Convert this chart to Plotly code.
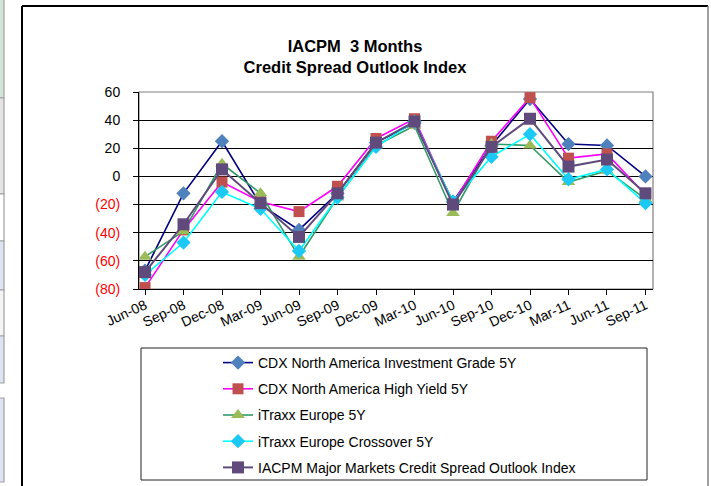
import plotly.graph_objects as go

categories = ["Jun-08", "Sep-08", "Dec-08", "Mar-09", "Jun-09", "Sep-09", "Dec-09",
              "Mar-10", "Jun-10", "Sep-10", "Dec-10", "Mar-11", "Jun-11", "Sep-11"]

cdx_ig = [-67, -12, 25, -20, -38, -12, 24, 38, -18, 22, 55, 23, 22, 0]
cdx_hy = [-79, -38, -4, -18, -25, -7, 27, 41, -19, 25, 56, 13, 16, -13]
itraxx_eu = [-57, -39, 9, -12, -57, -15, 22, 36, -26, 23, 22, -4, 4, -16]
itraxx_xo = [-70, -47, -11, -23, -53, -15, 21, 39, -18, 14, 30, -2, 5, -19]
iacpm_idx = [-68, -34, 5, -19, -43, -12, 24, 39, -20, 21, 41, 7, 12, -12]

series_names = ["CDX North America Investment Grade 5Y",
                "CDX North America High Yield 5Y",
                "iTraxx Europe 5Y",
                "iTraxx Europe Crossover 5Y",
                "IACPM Major Markets Credit Spread Outlook Index"]

y_tick_vals = [60, 40, 20, 0, -20, -40, -60, -80]
y_tick_text = ["60", "40", "20", "0", "(20)", "(40)", "(60)", "(80)"]

W, H = 711, 486
ML, MR, MT, MB = 139, 58, 92, 197
PW, PH = W - ML - MR, H - MT - MB


def px(x):
    return (x - ML) / PW


def py(y):
    return (H - MB - y) / PH


styles = [
    dict(line=dict(color="#000080", width=1.6), marker=dict(symbol="diamond", size=11, color="#4F81BD")),
    dict(line=dict(color="#FF00FF", width=1.6), marker=dict(symbol="square", size=11, color="#C0504D")),
    dict(line=dict(color="#339966", width=1.6), marker=dict(symbol="triangle-up", size=12, color="#9BBB59")),
    dict(line=dict(color="#00FFFF", width=1.6), marker=dict(symbol="diamond", size=11, color="#1CC8F4")),
    dict(line=dict(color="#604A7B", width=2), marker=dict(symbol="square", size=12, color="#604A7B")),
]

fig = go.Figure()
for name, vals, st, g in zip(series_names, [cdx_ig, cdx_hy, itraxx_eu, itraxx_xo, iacpm_idx],
                            styles, range(5)):
    fig.add_trace(go.Scatter(x=categories, y=vals, name=name, mode="lines+markers",
                             legendgroup=str(g), **st))

ticktext_colored = [t if not t.startswith("(") else f'<span style="color:#FF0000">{t}</span>'
                    for t in y_tick_text]

shapes = []
# plot area gray border
shapes.append(dict(type="rect", xref="paper", yref="paper", x0=0, x1=1, y0=0, y1=1,
                   line=dict(color="#808080", width=1.2), layer="between"))
# chart frame
shapes.append(dict(type="line", xref="paper", yref="paper", x0=px(22), x1=px(708), y0=py(6), y1=py(6),
                   line=dict(color="#000000", width=2)))
shapes.append(dict(type="line", xref="paper", yref="paper", x0=px(22), x1=px(22), y0=py(6), y1=py(492),
                   line=dict(color="#000000", width=2)))
shapes.append(dict(type="line", xref="paper", yref="paper", x0=px(708), x1=px(708), y0=py(6), y1=py(492),
                   line=dict(color="#808080", width=1.5)))
# legend box
shapes.append(dict(type="rect", xref="paper", yref="paper", x0=px(141), x1=px(647), y0=py(348), y1=py(480),
                   line=dict(color="#222222", width=1)))
# spreadsheet strip at the left edge
for (y0, y1, col) in [(-2, 98, "#D3E2D6"), (98, 194, "#E4E4E4"), (194, 241, "#FFFFFF"),
                      (241, 290, "#DCE4F2"), (290, 336, "#F4F4F4"), (336, 383, "#DCE4F2"),
                      (398, 482, "#DCE4F2")]:
    shapes.append(dict(type="rect", xref="paper", yref="paper", x0=px(-3), x1=px(4),
                       y0=py(y1), y1=py(y0), fillcolor=col, line=dict(color="#A0A0A0", width=1.2)))

fig.update_layout(
    width=W, height=H,
    margin=dict(l=ML, r=MR, t=MT, b=MB, autoexpand=False),
    paper_bgcolor="white", plot_bgcolor="white",
    font=dict(family="Liberation Sans, Arial, sans-serif", size=14, color="#000000"),
    title=dict(text="<b>IACPM  3 Months<br>Credit Spread Outlook Index</b>",
               font=dict(family="Liberation Sans, Arial, sans-serif", size=16.5, color="#000000"),
               xref="container", yref="container", x=355 / W, xanchor="center",
               y=1 - 52 / H, yanchor="top"),
    xaxis=dict(type="category", range=[-0.156, 13.195], showgrid=False, showline=True,
               linecolor="#000000", linewidth=1, ticks="outside", ticklen=5, tickcolor="#000000",
               tickangle=-25, tickfont=dict(size=14), zeroline=False, ticklabelstandoff=-3),
    yaxis=dict(range=[-80, 60], tickvals=y_tick_vals, ticktext=ticktext_colored,
               showgrid=True, gridcolor="#000000", gridwidth=1, zeroline=False,
               showline=True, linecolor="#000000", linewidth=1, ticks="outside", ticklen=5,
               tickcolor="#000000", tickfont=dict(size=14), ticklabelstandoff=10),
    showlegend=True,
    legend=dict(x=px(218), xanchor="left", y=py(347), yanchor="top",
                bgcolor="rgba(0,0,0,0)", borderwidth=0, font=dict(size=14),
                traceorder="grouped", tracegroupgap=5),
    shapes=shapes,
)

fig.write_html("out.html", config={"displayModeBar": False},
               post_script="document.body.style.margin='0';")
